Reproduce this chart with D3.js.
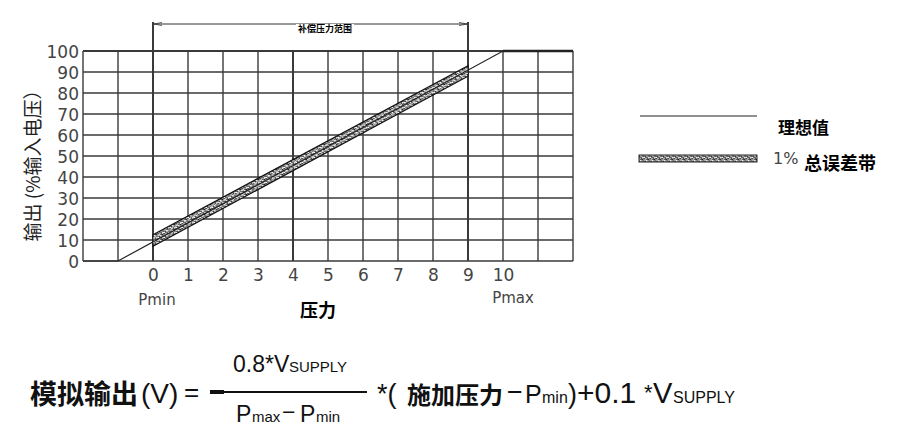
<!DOCTYPE html>
<html>
<head>
<meta charset="utf-8">
<script src="https://cdn.jsdelivr.net/npm/d3@7"></script>
<style>
  body { margin: 0; background: #fff; }
  svg { display: block; }
</style>
</head>
<body>
<svg id="chart" width="901" height="445"></svg>
<script>
// pressure units on x, output in % of supply on y
const gridX = [-2, -1, 0, 1, 2, 3, 4, 5, 6, 7, 8, 9, 10, 11, 12];
const xTicks = [0, 1, 2, 3, 4, 5, 6, 7, 8, 9, 10];
const yTicks = [0, 10, 20, 30, 40, 50, 60, 70, 80, 90, 100];
const heavyX = [0, 4, 9];
const idealX = [-2, -1, 10, 12];
const idealY = [0, 0, 100, 100];
const bandX = [0, 9];
const bandUpper = [12.5, 93];
const bandLower = [7, 88];
const rangeEnds = [0, 9];

const svg = d3.select('#chart');
const x = d3.scaleLinear().domain([-2, 12]).range([83, 573]);
const y = d3.scaleLinear().domain([0, 100]).range([261, 51]);

const cjk = '"Noto Sans CJK SC", sans-serif';
const num = '"DejaVu Sans", sans-serif';
const arial = '"Liberation Sans", Arial, sans-serif';

// stipple pattern for the error band
const defs = svg.append('defs');
const pat = defs.append('pattern').attr('id', 'stip')
  .attr('patternUnits', 'userSpaceOnUse').attr('width', 6).attr('height', 5);
pat.append('rect').attr('width', 6).attr('height', 5).attr('fill', '#a8a8a8');
[[0.5, 0.5], [3.5, 1.5], [1.5, 3], [4.5, 4], [2.5, 1], [5, 2.5], [0, 4]].forEach(d => {
  pat.append('rect').attr('x', d[0]).attr('y', d[1]).attr('width', 1.2).attr('height', 1.2).attr('fill', '#222');
});
[[2, 2], [4, 0.2], [0.5, 2]].forEach(d => {
  pat.append('rect').attr('x', d[0]).attr('y', d[1]).attr('width', 1).attr('height', 1).attr('fill', '#fff');
});

// grid
const grid = svg.append('g');
grid.selectAll('line.v').data(gridX).join('line')
  .attr('x1', d => x(d)).attr('x2', d => x(d))
  .attr('y1', d => rangeEnds.includes(d) ? 22 : y(100)).attr('y2', y(0))
  .attr('stroke', '#3a3a3a')
  .attr('stroke-width', d => heavyX.includes(d) ? 2 : 1.4);
grid.selectAll('line.h').data(yTicks).join('line')
  .attr('x1', x(-2)).attr('x2', x(12))
  .attr('y1', d => y(d)).attr('y2', d => y(d))
  .attr('stroke', '#3a3a3a')
  .attr('stroke-width', d => d === 100 ? 2.2 : 1.4);

// band
const band = d3.area().x((d, i) => x(bandX[i])).y0((d, i) => y(bandLower[i])).y1((d, i) => y(bandUpper[i]));
svg.append('path').datum(bandX).attr('d', band)
  .attr('fill', 'url(#stip)').attr('stroke', '#111').attr('stroke-width', 1.2);
[0.3, 0.7].forEach(t => {
  svg.append('line')
    .attr('x1', x(bandX[0])).attr('x2', x(bandX[1]))
    .attr('y1', y(bandLower[0] + t * (bandUpper[0] - bandLower[0])))
    .attr('y2', y(bandLower[1] + t * (bandUpper[1] - bandLower[1])))
    .attr('stroke', '#eee').attr('stroke-width', 0.9).attr('stroke-dasharray', '3,2');
});

// ideal line
const line = d3.line().x((d, i) => x(idealX[i])).y(d => y(d));
svg.append('path').datum(idealY).attr('d', line)
  .attr('fill', 'none').attr('stroke', '#222').attr('stroke-width', 1.2);
svg.append('line').attr('x1', x(10)).attr('x2', x(12)).attr('y1', y(100)).attr('y2', y(100))
  .attr('stroke', '#222').attr('stroke-width', 2.4);

// compensated range bracket
defs.append('marker').attr('id', 'arr').attr('viewBox', '0 0 8 6').attr('refX', 8).attr('refY', 3)
  .attr('markerWidth', 8).attr('markerHeight', 6).attr('orient', 'auto-start-reverse')
  .append('path').attr('d', 'M0,1.5L8,3L0,4.5').attr('fill', 'none').attr('stroke', '#333').attr('stroke-width', 0.8);
svg.append('line').attr('x1', x(rangeEnds[0]) + 1).attr('x2', x(rangeEnds[1]) - 1).attr('y1', 24).attr('y2', 24)
  .attr('stroke', '#333').attr('stroke-width', 1)
  .attr('marker-start', 'url(#arr)').attr('marker-end', 'url(#arr)');
svg.append('rect').attr('x', 296).attr('y', 24).attr('width', 58).attr('height', 10).attr('fill', '#fff');
svg.append('text').attr('x', 325).attr('y', 32).attr('text-anchor', 'middle')
  .attr('font-family', cjk).attr('font-weight', 'bold').attr('font-size', 9).text('补偿压力范围');

// axes
const yAxis = d3.axisLeft(y).tickValues(yTicks).tickSize(0).tickPadding(4);
const gy = svg.append('g').attr('transform', `translate(${x(-2)},0)`).call(yAxis);
gy.select('.domain').remove();
gy.selectAll('text').attr('font-family', num).attr('font-size', 17).attr('fill', '#444').attr('dy', '0.36em');

const xAxis = d3.axisBottom(x).tickValues(xTicks).tickSize(0).tickPadding(8);
const gx = svg.append('g').attr('transform', `translate(0,${y(0)})`).call(xAxis);
gx.select('.domain').remove();
gx.selectAll('text').attr('font-family', num).attr('font-size', 17).attr('fill', '#444');

svg.append('text').attr('x', 157).attr('y', 305).attr('text-anchor', 'middle')
  .attr('font-family', num).attr('font-size', 15).attr('fill', '#444').text('Pmin');
svg.append('text').attr('x', 513).attr('y', 303).attr('text-anchor', 'middle')
  .attr('font-family', num).attr('font-size', 15).attr('fill', '#444').text('Pmax');
svg.append('text').attr('x', 318).attr('y', 317).attr('text-anchor', 'middle')
  .attr('font-family', cjk).attr('font-weight', 'bold').attr('font-size', 18).text('压力');
svg.append('text').attr('transform', 'translate(40,161) rotate(-90)').attr('text-anchor', 'middle')
  .attr('font-family', cjk).attr('font-size', 19).attr('fill', '#222').text('输出 (%输入电压）');

// legend
svg.append('line').attr('x1', 640).attr('x2', 757).attr('y1', 116).attr('y2', 116)
  .attr('stroke', '#222').attr('stroke-width', 1.2);
svg.append('text').attr('x', 778).attr('y', 134)
  .attr('font-family', cjk).attr('font-weight', 'bold').attr('font-size', 17).text('理想值');
svg.append('rect').attr('x', 639).attr('y', 155).attr('width', 118).attr('height', 7)
  .attr('fill', 'url(#stip)').attr('stroke', '#222').attr('stroke-width', 1);
svg.append('text').attr('x', 773).attr('y', 164)
  .attr('font-family', num).attr('font-size', 16).attr('fill', '#444').text('1%');
svg.append('text').attr('x', 804).attr('y', 170)
  .attr('font-family', cjk).attr('font-weight', 'bold').attr('font-size', 18).text('总误差带');

// formula pieces
const f = svg.append('g').attr('fill', '#111');
function piece(txt, px, py, size, opts = {}) {
  f.append('text').attr('x', px).attr('y', py)
    .attr('font-family', opts.cjk ? cjk : arial)
    .attr('font-weight', opts.bold ? 'bold' : 'normal')
    .attr('font-size', size)
    .text(txt);
}
piece('模拟输出', 30, 404, 27, { cjk: true, bold: true });
piece('(V)', 141, 403, 28);
piece('=', 184, 401, 26);

piece('0.8*V', 233, 372, 23);
piece('SUPPLY', 289, 372, 15);
f.append('line').attr('x1', 210).attr('x2', 367).attr('y1', 392).attr('y2', 392)
  .attr('stroke', '#111').attr('stroke-width', 2);
f.append('line').attr('x1', 210).attr('x2', 224).attr('y1', 392).attr('y2', 392)
  .attr('stroke', '#111').attr('stroke-width', 4);
piece('P', 236, 422, 23);
piece('max', 252, 422, 15);
piece('−', 282, 420, 23);
piece('P', 300, 422, 23);
piece('min', 316, 422, 15);

piece('*(', 377, 403, 27);
piece('施加压力', 407, 404, 24, { cjk: true, bold: true });
piece('−', 507, 401, 27);
piece('P', 525, 403, 25);
piece('min', 542, 403, 16);
piece(')', 568, 403, 27);
piece('+0.1', 577, 403, 30);
piece('*', 644, 400, 22);
piece('V', 653, 403, 29);
piece('SUPPLY', 673, 403, 16);
</script>
</body>
</html>
